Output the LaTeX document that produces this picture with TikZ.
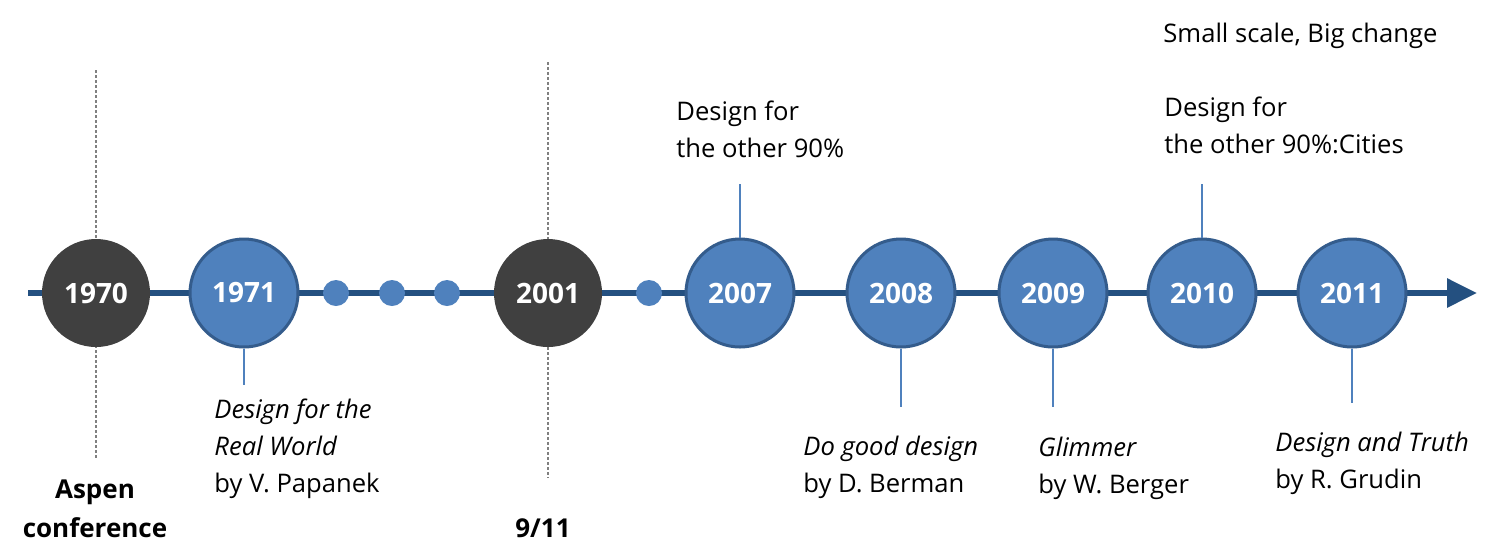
\documentclass[tikz,border=0pt]{standalone}
\usepackage{fontspec}
\setmainfont{Open Sans}
\usetikzlibrary{arrows.meta}
\definecolor{axisblue}{RGB}{36,80,128}
\definecolor{yearblue}{RGB}{79,129,189}
\definecolor{edgeblue}{RGB}{52,92,140}
\definecolor{yeardark}{RGB}{64,64,64}
\begin{document}
\begin{tikzpicture}[x=0.5pt, y=-0.5pt]
					\tikzstyle{year}=[circle,minimum size=54pt,inner sep=0pt,text=white,font=\fontsize{14}{16}\selectfont\bfseries]
					\tikzstyle{darkyear}=[year,fill=yeardark]
					\tikzstyle{blueyear}=[year,fill=yearblue,draw=edgeblue,line width=1.5pt]
					\tikzstyle{gap}=[circle,fill=yearblue,minimum size=13pt,inner sep=0pt]
					\tikzstyle{note}=[anchor=base west,align=left,inner sep=0pt,font=\fontsize{12.8}{18.5}\selectfont]
					\tikzstyle{event}=[anchor=base,align=center,inner sep=0pt,font=\fontsize{13}{19.5}\selectfont\bfseries]
					\useasboundingbox (0,0) rectangle (1512,554);
					\draw 
					coordinate(S)at(28,293)
					coordinate(T)at(1477,293)
					coordinate(P1)at(96,70)
					coordinate(P2)at(96,458)
					coordinate(Q1)at(548,62)
					coordinate(Q2)at(548,478);
					
					\draw[gray,line width=0.6pt,dash pattern=on 1.5pt off 1pt](P1)--(P2);
					\draw[gray,line width=0.6pt,dash pattern=on 1.5pt off 1pt](Q1)--(Q2);
					\draw[axisblue,line width=3pt,-{Triangle[length=15pt,width=14pt]}](S)--(T);
					
					\draw 
					node[darkyear](Y70)at(96,293){1970}
					node[blueyear](Y71)at(244,293){1971}
					node[gap](G1)at(336,293){}
					node[gap](G2)at(392,293){}
					node[gap](G3)at(447,293){}
					node[darkyear](Y01)at(548,293){2001}
					node[gap](G4)at(649,293){}
					node[blueyear](Y07)at(740,293){2007}
					node[blueyear](Y08)at(901,293){2008}
					node[blueyear](Y09)at(1053,293){2009}
					node[blueyear](Y10)at(1202,293){2010}
					node[blueyear](Y11)at(1352,293){2011};
					
					\draw 
					coordinate(E71)at(244,385)
					coordinate(E07)at(740,184)
					coordinate(E08)at(901,407)
					coordinate(E09)at(1053,407)
					coordinate(E10)at(1202,184)
					coordinate(E11)at(1352,403);
					
					\draw[yearblue,line width=0.9pt](Y71.south)--(E71);
					\draw[yearblue,line width=0.9pt](Y07.north)--(E07);
					\draw[yearblue,line width=0.9pt](Y08.south)--(E08);
					\draw[yearblue,line width=0.9pt](Y09.south)--(E09);
					\draw[yearblue,line width=0.9pt](Y10.north)--(E10);
					\draw[yearblue,line width=0.9pt](Y11.south)--(E11);
					
					% multi-line notes sit on the baseline of their last line
					\draw 
					node[note](B71)at(214,492){\itshape Design for the\\ \itshape Real World\\ by V. Papanek}
					node[note](B07)at(676,157){Design for\\ the other 90\%}
					node[note](S10)at(1163,42){Small scale, Big change}
					node[note](B10)at(1164,153){Design for\\ the other 90\%:Cities}
					node[note](B08)at(803,492){\itshape Do good design\\ by D. Berman}
					node[note](B09)at(1038,493){\itshape Glimmer\\ by W. Berger}
					node[note](B11)at(1275,488){\itshape Design and Truth\\ by R. Grudin}
					node[event](A70)at(95,537){Aspen\\ conference}
					node[event](A01)at(543,537){9/11};
\end{tikzpicture}
\end{document}
